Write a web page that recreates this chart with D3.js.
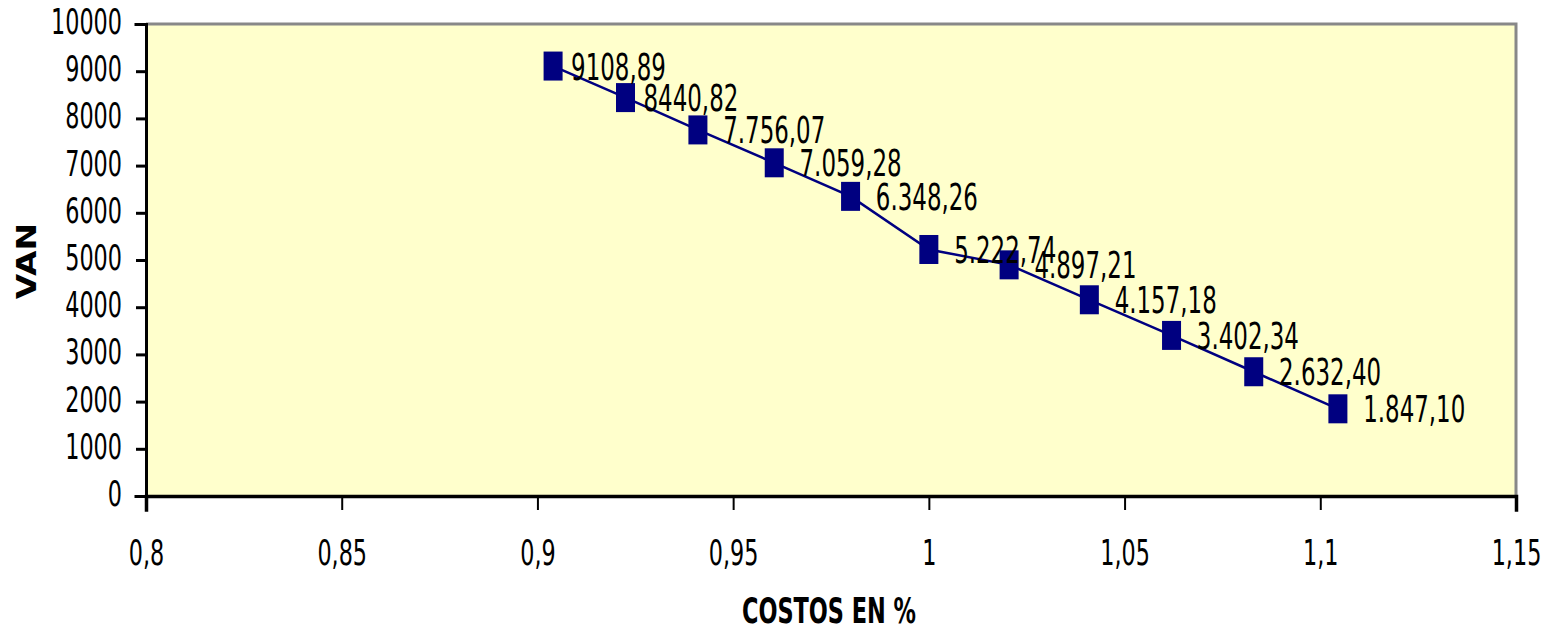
<!DOCTYPE html>
<html>
<head>
<meta charset="utf-8">
<script src="https://cdn.jsdelivr.net/npm/d3@7"></script>
<style>
  body { margin: 0; background: #fff; }
  text { font-family: "DejaVu Sans", Verdana, sans-serif; fill: #000; }
  .lbl { white-space: pre; }
</style>
</head>
<body>
<div class="chart"></div>
<script>
// values
const costos = [0.904, 0.9225, 0.941, 0.9605, 0.98, 1.0, 1.0205, 1.041, 1.062, 1.083, 1.1045]
const van = [9108.89, 8440.82, 7756.07, 7059.28, 6348.26, 5222.74, 4897.21, 4157.18, 3402.34, 2632.40, 1847.10]
const labels = ['9108,89', '8440,82', ' 7.756,07', ' 7.059,28', ' 6.348,26', ' 5.222,74', ' 4.897,21', ' 4.157,18', ' 3.402,34', ' 2.632,40', ' 1.847,10']
const xTicks = [0.8, 0.85, 0.9, 0.95, 1, 1.05, 1.1, 1.15]
const yTicks = [0, 1000, 2000, 3000, 4000, 5000, 6000, 7000, 8000, 9000, 10000]

const svgWidth = 1554;
const svgHeight = 630;
const margin = {top: 24, right: 38, bottom: 134, left: 146};
const graphWidth = svgWidth - margin.left - margin.right
const graphHeight = svgHeight - margin.top - margin.bottom
const navy = '#000080'
const squeeze = 0.62   // the original text is narrow

const svg = d3.select('.chart')
    .append('svg')
    .attr('width', svgWidth)
    .attr('height', svgHeight)
const graph = svg.append('g')
    .attr('transform', `translate(${margin.left},${margin.top})`)

const xScale = d3.scaleLinear().domain([0.8, 1.15]).range([0, graphWidth])
const yScale = d3.scaleLinear().domain([0, 10000]).range([graphHeight, 0])

// plot area
graph.append('rect')
    .attr('width', graphWidth)
    .attr('height', graphHeight)
    .attr('fill', '#FFFFCC')
graph.append('path')
    .attr('d', `M0,0H${graphWidth}V${graphHeight}`)
    .attr('fill', 'none')
    .attr('stroke', '#888')
    .attr('stroke-width', 3)

// y axis
const yAxis = graph.append('g')
    .call(d3.axisLeft(yScale).tickValues(yTicks).tickSize(10).tickPadding(0).tickFormat(d => d))
yAxis.select('.domain').attr('stroke', '#000').attr('stroke-width', 3)
yAxis.selectAll('.tick line').attr('stroke', '#000').attr('stroke-width', 3)
yAxis.selectAll('.tick text')
    .attr('x', null).attr('dy', null)
    .attr('transform', `translate(-24,9.5) scale(${squeeze},1)`)
    .attr('font-size', 36)
    .attr('text-anchor', 'end')

// x axis
const xAxis = graph.append('g')
    .attr('transform', `translate(0,${graphHeight})`)
    .call(d3.axisBottom(xScale).tickValues(xTicks).tickSize(14).tickFormat(d => String(d).replace('.', ',')))
xAxis.select('.domain').attr('stroke', '#000').attr('stroke-width', 3.5)
xAxis.selectAll('.tick line').attr('stroke', '#000').attr('stroke-width', 2)
xAxis.selectAll('.tick text')
    .attr('y', null).attr('dy', null)
    .attr('transform', `translate(0,69) scale(${squeeze},1)`)
    .attr('font-size', 36)
    .attr('text-anchor', 'middle')
svg.selectAll('.domain').attr('stroke-linecap', 'square')

// axis titles
svg.append('text')
    .attr('transform', `translate(36,261) rotate(-90) scale(1,0.79)`)
    .attr('text-anchor', 'middle')
    .attr('font-size', 33)
    .attr('font-weight', 'bold')
    .text('VAN')
svg.append('text')
    .attr('transform', `translate(829,623) scale(0.64,1)`)
    .attr('text-anchor', 'middle')
    .attr('font-size', 35)
    .attr('font-weight', 'bold')
    .text('COSTOS EN %')

// series
const points = costos.map((c, i) => ({x: c, y: van[i], label: labels[i]}))

const line = d3.line()
    .x(d => xScale(d.x))
    .y(d => yScale(d.y))
graph.append('path')
    .datum(points)
    .attr('d', line)
    .attr('fill', 'none')
    .attr('stroke', navy)
    .attr('stroke-width', 2.5)

graph.selectAll('.marker')
    .data(points)
    .join('rect')
    .attr('class', 'marker')
    .attr('x', d => xScale(d.x) - 9.5)
    .attr('y', d => yScale(d.y) - 14.5)
    .attr('width', 19)
    .attr('height', 29)
    .attr('fill', navy)

graph.selectAll('.lbl')
    .data(points)
    .join('text')
    .attr('class', 'lbl')
    .attr('transform', d => `translate(${xScale(d.x) + 18},${yScale(d.y) + 13.5}) scale(${squeeze},1)`)
    .attr('font-size', 37)
    .text(d => d.label)
</script>
</body>
</html>
